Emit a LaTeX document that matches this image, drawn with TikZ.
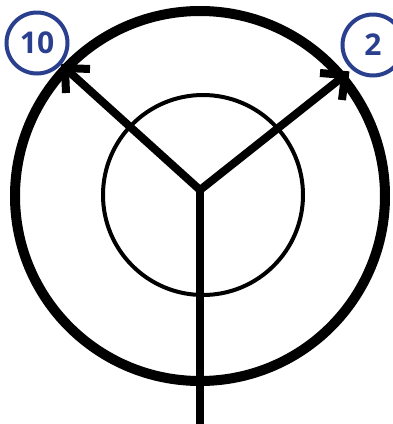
\documentclass[tikz,border=0pt]{standalone}
\usepackage{fontspec}
\setsansfont{Open Sans}
\definecolor{numblue}{HTML}{2B3F8F}
\begin{document}
\begin{tikzpicture}[x=1pt,y=-1pt,
  armline/.style={line width=8pt,line cap=butt,line join=miter},
  numlabel/.style={circle,draw=numblue,line width=4pt,text=numblue,minimum size=61pt,inner sep=0pt,font=\sffamily\bfseries\fontsize{30}{30}\selectfont}]
\useasboundingbox (0,0) rectangle (393,424);
\draw[line width=10pt] (200,196) circle[radius=185];
\draw[line width=4pt] (203,195) circle[radius=100];
\coordinate (c) at (200,190);
\coordinate (tl) at (65,68);
\coordinate (tr) at (345,75);
\coordinate (b) at (200,424);
\coordinate (tl1) at (90,69);
\coordinate (tl2) at (66,93);
\coordinate (tr1) at (320,73);
\coordinate (tr2) at (342,100);
\draw[armline] (c) -- (b);
\draw[armline] (tl) -- (c) -- (tr);
% arrow barbs
\draw[armline] (tl1) -- (tl) -- (tl2);
\draw[armline] (tr1) -- (tr) -- (tr2);
\node[numlabel] (n10) at (37,43) {10};
\node[numlabel] (n2) at (373,45) {2};
\end{tikzpicture}
\end{document}
